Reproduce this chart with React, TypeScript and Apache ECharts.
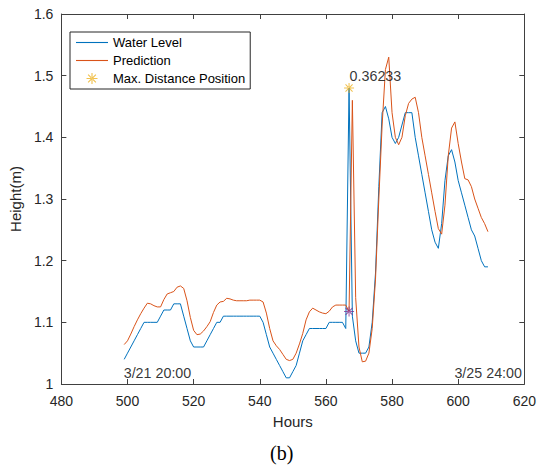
import React, { useEffect, useRef } from "react";
import * as echarts from "echarts";

const START_HOUR = 499;

const waterLevel = [
  1.04, 1.05, 1.06, 1.07, 1.08, 1.09, 1.10, 1.10, 1.10, 1.10,
  1.10, 1.11, 1.12, 1.12, 1.12, 1.13, 1.13, 1.13, 1.11, 1.09,
  1.07, 1.06, 1.06, 1.06, 1.06, 1.07, 1.08, 1.09, 1.10, 1.10,
  1.11, 1.11, 1.11, 1.11, 1.11, 1.11, 1.11, 1.11, 1.11, 1.11,
  1.11, 1.11, 1.10, 1.08, 1.06, 1.05, 1.04, 1.03, 1.02, 1.01,
  1.01, 1.02, 1.03, 1.05, 1.07, 1.08, 1.09, 1.09, 1.09, 1.09,
  1.09, 1.09, 1.10, 1.10, 1.10, 1.10, 1.10, 1.09, 1.48, 1.11,
  1.07, 1.05, 1.05, 1.05, 1.06, 1.10, 1.18, 1.32, 1.44, 1.45,
  1.43, 1.40, 1.39, 1.40, 1.42, 1.44, 1.44, 1.44, 1.40, 1.37,
  1.34, 1.31, 1.28, 1.25, 1.23, 1.22, 1.26, 1.33, 1.37, 1.38,
  1.36, 1.33, 1.31, 1.29, 1.27, 1.25, 1.24, 1.22, 1.20, 1.19,
  1.19,
];

const prediction = [
  1.064, 1.070, 1.081, 1.093, 1.104, 1.114, 1.123, 1.131, 1.130, 1.127,
  1.125, 1.125, 1.137, 1.146, 1.148, 1.150, 1.157, 1.159, 1.155, 1.135,
  1.108, 1.087, 1.080, 1.081, 1.086, 1.093, 1.101, 1.116, 1.128, 1.133,
  1.134, 1.139, 1.138, 1.136, 1.135, 1.135, 1.135, 1.135, 1.136, 1.136,
  1.136, 1.136, 1.133, 1.115, 1.090, 1.070, 1.062, 1.056, 1.048, 1.040,
  1.038, 1.040, 1.050, 1.065, 1.082, 1.104, 1.117, 1.123, 1.120, 1.117,
  1.115, 1.114, 1.118, 1.125, 1.128, 1.128, 1.128, 1.128, 1.1177, 1.460,
  1.140, 1.060, 1.036, 1.037, 1.050, 1.090, 1.170, 1.300, 1.420, 1.510,
  1.530, 1.440, 1.400, 1.388, 1.400, 1.435, 1.455, 1.462, 1.465, 1.440,
  1.400, 1.370, 1.340, 1.310, 1.280, 1.252, 1.243, 1.290, 1.370, 1.415,
  1.425, 1.390, 1.360, 1.333, 1.331, 1.320, 1.300, 1.285, 1.270, 1.260,
  1.247,
];

const maxDistHour = [567, 567];
const maxDistValue = [1.48, 1.1177];
const maxDistColors = ["#EDB120", "#7E2F8E"];
const maxDistLabel = "0.36233";

const dateLabelHours = [499, 599];
const dateLabelTexts = ["3/21 20:00", "3/25 24:00"];

const xTicks = { min: 480, max: 620, interval: 20 };
const yTicks = { min: 1, max: 1.6, interval: 0.1 };

const FONT = "'Liberation Sans', Arial, Helvetica, sans-serif";
const AXIS_COLOR = "#404040";
const TEXT_COLOR = "#262626";

const ASTERISK =
  "path://M-10,-1L10,-1L10,1L-10,1Z M-1,-10L1,-10L1,10L-1,10Z M-7.78,-6.36L6.36,7.78L7.78,6.36L-6.36,-7.78Z M7.78,-6.36L-6.36,7.78L-7.78,6.36L6.36,-7.78Z";
const LINE_ICON = "path://M0,0L32,0L32,1.1L0,1.1Z";

export default function App() {
  const ref = useRef<HTMLDivElement>(null);

  useEffect(() => {
    if (!ref.current) return;
    const chart = echarts.init(ref.current, undefined, { renderer: "svg" });

    const waterData = waterLevel.map((v, i) => [START_HOUR + i, v]);
    const predData = prediction.map((v, i) => [START_HOUR + i, v]);
    const starData = maxDistHour.map((h, i) => ({
      value: [h, maxDistValue[i]],
      itemStyle: { color: maxDistColors[i] },
      label:
        i === 0
          ? {
              show: true,
              formatter: maxDistLabel,
              position: [5.5, -7],
              align: "left",
              verticalAlign: "middle",
              fontSize: 14.3,
              fontFamily: FONT,
              color: "#000",
            }
          : { show: false },
    }));
    const dateData = dateLabelHours.map((h, i) => ({
      value: [h, yTicks.min],
      label: {
        show: true,
        formatter: dateLabelTexts[i],
        position: [0, -11],
        align: "left",
        verticalAlign: "middle",
        fontSize: 14.3,
        fontFamily: FONT,
        color: "#000",
      },
    }));

    const axisCommon = {
      type: "value" as const,
      axisLine: { show: true, onZero: false, lineStyle: { color: AXIS_COLOR, width: 1 } },
      axisTick: { show: true, inside: true, length: 5, lineStyle: { color: AXIS_COLOR } },
      splitLine: { show: false },
    };

    chart.setOption({
      animation: false,
      backgroundColor: "#ffffff",
      grid: { left: 57, top: 14, width: 470, height: 370 },
      legend: {
        left: 70,
        top: 32,
        orient: "vertical",
        data: [
          { name: "Water Level", icon: LINE_ICON },
          { name: "Prediction", icon: LINE_ICON },
          { name: "Max. Distance Position" },
        ],
        itemWidth: 32,
        itemHeight: 11,
        itemGap: 5,
        padding: [4, 5, 4, 6],
        borderColor: "#262626",
        borderWidth: 1,
        backgroundColor: "#ffffff",
        textStyle: { fontSize: 13, fontFamily: FONT, color: "#000" },
        selectedMode: false,
      },
      xAxis: [
        {
          ...axisCommon,
          position: "bottom",
          min: xTicks.min,
          max: xTicks.max,
          interval: xTicks.interval,
          axisLabel: { fontSize: 14, fontFamily: FONT, color: TEXT_COLOR, margin: 10 },
          name: "Hours",
          nameLocation: "middle",
          nameGap: 30,
          nameTextStyle: { fontSize: 15, fontFamily: FONT, color: TEXT_COLOR },
        },
        {
          ...axisCommon,
          position: "top",
          min: xTicks.min,
          max: xTicks.max,
          interval: xTicks.interval,
          axisLabel: { show: false },
        },
      ],
      yAxis: [
        {
          ...axisCommon,
          position: "left",
          min: yTicks.min,
          max: yTicks.max,
          interval: yTicks.interval,
          axisLabel: { fontSize: 14, fontFamily: FONT, color: TEXT_COLOR, margin: 8 },
          name: "Height(m)",
          nameLocation: "middle",
          nameGap: 32,
          nameTextStyle: { fontSize: 15, fontFamily: FONT, color: TEXT_COLOR },
        },
        {
          ...axisCommon,
          position: "right",
          min: yTicks.min,
          max: yTicks.max,
          interval: yTicks.interval,
          axisLabel: { show: false },
        },
      ],
      series: [
        {
          name: "Water Level",
          type: "line",
          data: waterData,
          symbol: "none",
          lineStyle: { color: "#0072BD", width: 1 },
          itemStyle: { color: "#0072BD" },
        },
        {
          name: "Prediction",
          type: "line",
          data: predData,
          symbol: "none",
          lineStyle: { color: "#D95319", width: 1 },
          itemStyle: { color: "#D95319" },
        },
        {
          name: "Max. Distance Position",
          type: "scatter",
          data: starData,
          symbol: ASTERISK,
          symbolSize: 10,
          itemStyle: { color: "#EDB120" },
          z: 5,
        },
        {
          name: "dates",
          type: "scatter",
          data: dateData,
          symbolSize: 1,
          itemStyle: { color: "rgba(0,0,0,0)" },
          silent: true,
        },
      ],
      graphic: [
        {
          type: "text",
          x: 281.7,
          y: 453,
          style: {
            text: "(b)",
            font: "20px 'Liberation Serif', 'Times New Roman', serif",
            fill: "#000",
            align: "center",
            verticalAlign: "middle",
          },
        },
      ],
    });

    return () => chart.dispose();
  }, []);

  return (
    <div
      ref={ref}
      style={{ position: "fixed", left: 0, top: 0, width: 539, height: 465, background: "#fff" }}
    />
  );
}
